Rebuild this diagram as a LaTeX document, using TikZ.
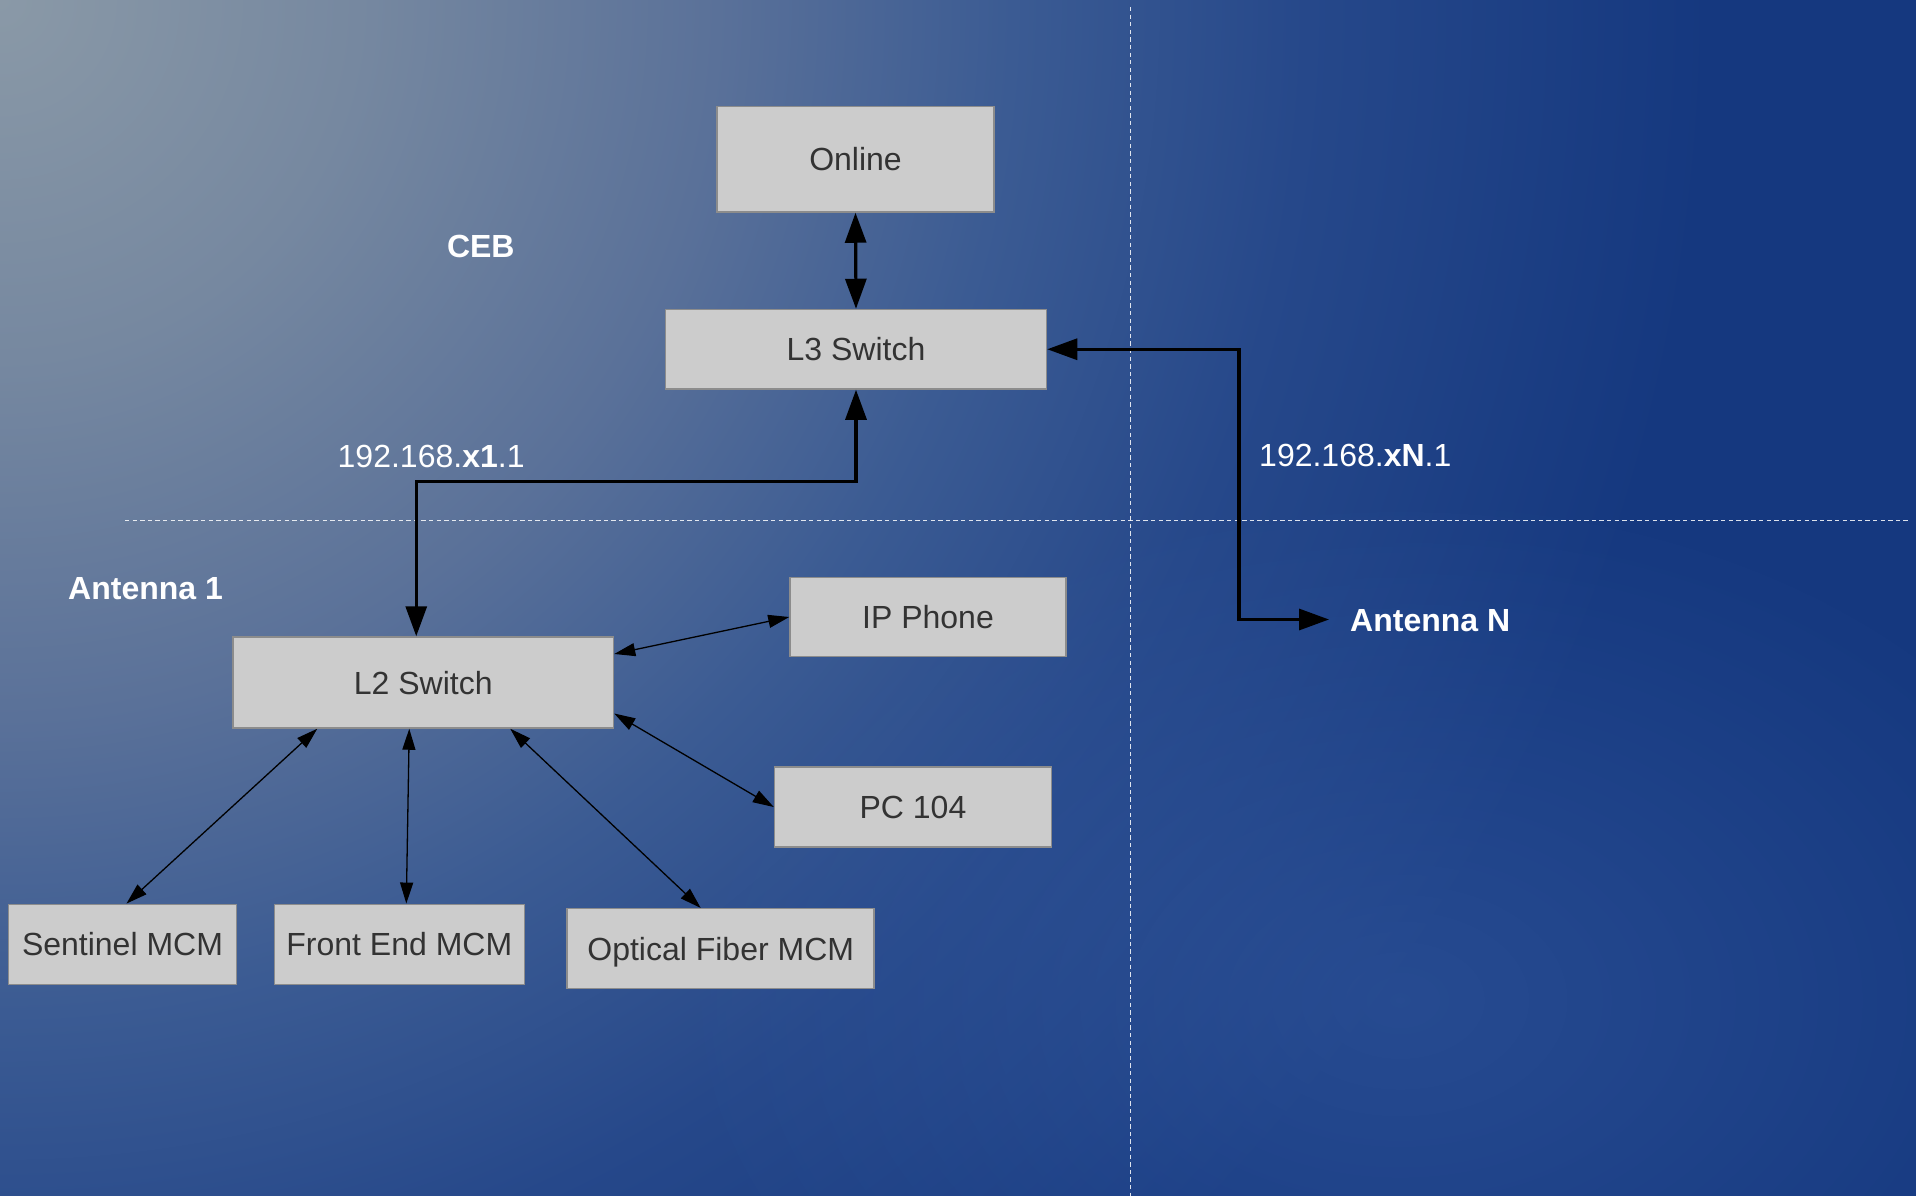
\documentclass[tikz,border=0pt]{standalone}
\usepackage{fontspec}
\setmainfont{Liberation Sans}
\usetikzlibrary{arrows.meta,calc,fadings}

\definecolor{bg0}{HTML}{8A99A7}
\definecolor{bg1}{HTML}{7688A0}
\definecolor{bg2}{HTML}{5A7199}
\definecolor{bg3}{HTML}{3B5B93}
\definecolor{bg4}{HTML}{26488A}
\definecolor{bg5}{HTML}{15387F}
\definecolor{glowc}{HTML}{4268AC}
\definecolor{boxfill}{HTML}{CCCCCC}
\definecolor{boxline}{HTML}{8C8C8C}
\definecolor{boxtext}{HTML}{333333}

\pgfdeclareradialshading{bgshade}{\pgfpoint{0bp}{0bp}}{color(0bp)=(bg0); color(3.9bp)=(bg1); color(7.8bp)=(bg2); color(11bp)=(bg3); color(14.2bp)=(bg4); color(18.6bp)=(bg5); color(25bp)=(bg5); color(50bp)=(bg5)}

\tikzfading[name=glowfade, inner color=transparent!0, outer color=transparent!100]

\tikzset{
  box/.style={draw=boxline, line width=1.5pt, fill=boxfill, text=boxtext,
    font=\fontsize{32}{38}\selectfont, inner sep=0pt, text height=23pt, text depth=0pt},
  lbl/.style={text=white, font=\fontsize{32}{38}\selectfont, inner sep=0pt,
    text height=23pt, text depth=0pt},
  lblb/.style={lbl, font=\fontsize{32}{38}\selectfont\bfseries},
  thickarr/.style={line width=3.2pt,
    {Triangle[length=30pt,width=21pt]}-{Triangle[length=30pt,width=21pt]}},
  thinarr/.style={line width=1.3pt,
    {Triangle[length=21pt,width=13pt]}-{Triangle[length=21pt,width=13pt]}},
  divider/.style={draw=white, draw opacity=0.85, line width=1pt,
    dash pattern=on 4.3pt off 3.3pt}
}

\begin{document}
\begin{tikzpicture}[x=1pt, y=-1pt]
\useasboundingbox (0,0) rectangle (1916,1196);
\fill[bg5] (0,0) rectangle (1916,1196);
\begin{scope}
  \clip (0,0) rectangle (1916,1196);
  \shade[shading=bgshade] (0,0) circle (2300pt);
  \fill[glowc, fill opacity=0.4, path fading=glowfade] (1400,1000) ellipse (750pt and 520pt);
\end{scope}

% dividers
\coordinate (hl) at (125,520.5);
\coordinate (hr) at (1908,520.5);
\coordinate (vt) at (1130.5,7);
\coordinate (vb) at (1130.5,1196);
\draw[divider] (hl) -- (hr);
\draw[divider] (vt) -- (vb);

% boxes
\node[box, minimum width=277pt, minimum height=105.5pt] (online) at (855.5,159.25) {Online};
\node[box, minimum width=381pt, minimum height=79.5pt] (l3) at (856,349.25) {L3 Switch};
\node[box, minimum width=380.5pt, minimum height=91pt] (l2) at (423.25,682.5) {L2 Switch};
\node[box, minimum width=276pt, minimum height=79pt] (ipphone) at (928,617) {IP Phone};
\node[box, minimum width=277pt, minimum height=80pt] (pc) at (913,807) {PC 104};
\node[box, minimum width=228pt, minimum height=80pt] (sentinel) at (122.5,944.3) {Sentinel MCM};
\node[box, minimum width=250pt, minimum height=80pt] (frontend) at (399.3,944.3) {Front End MCM};
\node[box, minimum width=307pt, minimum height=80pt] (optical) at (720.7,948.7) {Optical Fiber MCM};

% labels
\node[lblb] (ceb) at (480.8,245.6) {CEB};
\node[lbl, anchor=west] (ip1) at (337.5,455.5) {192.168.\textbf{x1}.1};
\node[lbl, anchor=west] (ipN) at (1259,455) {192.168.\textbf{xN}.1};
\node[lblb, anchor=west] (ant1) at (68,587.5) {Antenna 1};
\node[lblb, anchor=west] (antN) at (1350,619.5) {Antenna N};

% thick connectors
\draw[thickarr] (online.south) -- (l3.north);
\draw[thickarr] ([xshift=-7pt]l2.north) -- ++(0,-155) -| (l3.south);
\coordinate (nend) at (1329,619.5);
\draw[thickarr] (l3.east) -| ($(nend)+(-90,0)$) -- (nend);

% thin connectors
\draw[thinarr] ($(l2.east)+(0,-28.5)$) -- (ipphone.west);
\draw[thinarr] ($(l2.east)+(0,31)$) -- (pc.west);
\draw[thinarr] ($(l2.south)+(-106,0)$) -- ($(sentinel.north)+(4,0)$);
\draw[thinarr] ($(l2.south)+(-14,0)$) -- ($(frontend.north)+(7,0)$);
\draw[thinarr] ($(l2.south)+(87,0)$) -- ($(optical.north)+(-20,0)$);
\end{tikzpicture}
\end{document}
